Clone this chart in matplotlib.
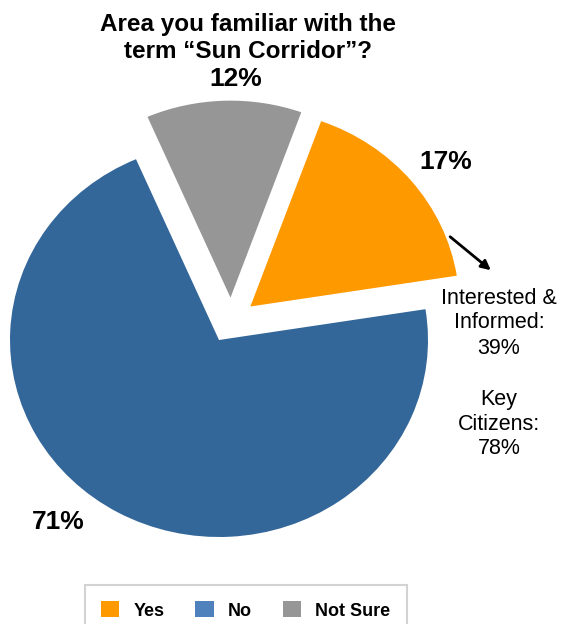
import matplotlib
matplotlib.use('Agg')
import matplotlib.pyplot as plt
from matplotlib.patches import Patch

# data
labels = ['Yes', 'Not Sure', 'No']
values = [17, 12, 71]
pct_text = ['17%', '12%', '71%']
pie_colors = ['#FF9900', '#969696', '#336699']
legend_labels = ['Yes', 'No', 'Not Sure']
legend_colors = ['#FF9900', '#4F81BD', '#969696']
title = 'Area you familiar with the\nterm \u201cSun Corridor\u201d?'
note1 = 'Interested &\nInformed:\n39%'
note2 = 'Key\nCitizens:\n78%'

W, H = 565, 624
cx, cy, rx, ry = 219, 340, 209, 197  # pie centre and radii in pixels
# pulled-out offsets (in radius units) for Yes / Not Sure
shift = [(0.15, 0.17), (0.055, 0.215), (0.0, 0.0)]

plt.rcParams['font.family'] = ['Liberation Sans', 'DejaVu Sans']

fig = plt.figure(figsize=(W / 100, H / 100), dpi=100, facecolor='w')
ax = fig.add_axes([0, 0, 1, 1])

wedges, _ = ax.pie(values, colors=pie_colors, startangle=9, counterclock=True,
                   normalize=True)
for w, s in zip(wedges, shift):
    w.set_center(s)
ax.set_aspect('auto')
# map pixel positions to data coords
ax.set_xlim(-cx / rx, (W - cx) / rx)
ax.set_ylim((cy - H) / ry, cy / ry)
ax.axis('off')

def px(x, y):
    return ((x - cx) / rx, (cy - y) / ry)

ax.text(*px(248, 38), title, ha='center', va='center', fontsize=17.5,
        fontweight='bold', linespacing=1.2)
ax.text(*px(236, 79), pct_text[1], ha='center', va='center', fontsize=19, fontweight='bold')
ax.text(*px(446, 162), pct_text[0], ha='center', va='center', fontsize=19, fontweight='bold')
ax.text(*px(58, 522), pct_text[2], ha='center', va='center', fontsize=19, fontweight='bold')

ax.annotate('', xy=px(493, 272), xytext=px(448, 235),
            arrowprops=dict(arrowstyle='-|>', color='black', lw=2, mutation_scale=14))

ax.text(*px(499, 323), note1, ha='center', va='center', fontsize=15.5, linespacing=1.25)
ax.text(*px(499, 424), note2, ha='center', va='center', fontsize=15.5, linespacing=1.25)

handles = [Patch(facecolor=c, edgecolor='none') for c in legend_colors]
leg = fig.legend(handles, legend_labels, loc='upper left',
                 bbox_to_anchor=(85 / W, 1 - 585 / H), ncol=3,
                 prop={'weight': 'bold', 'size': 13}, frameon=True, fancybox=False,
                 handlelength=1.0, handleheight=1.0, columnspacing=1.7,
                 handletextpad=0.8, borderpad=0.9, borderaxespad=0)
leg.get_frame().set_edgecolor('#c8c8c8')
leg.get_frame().set_linewidth(1.5)

fig.savefig('out.png', dpi=100)
